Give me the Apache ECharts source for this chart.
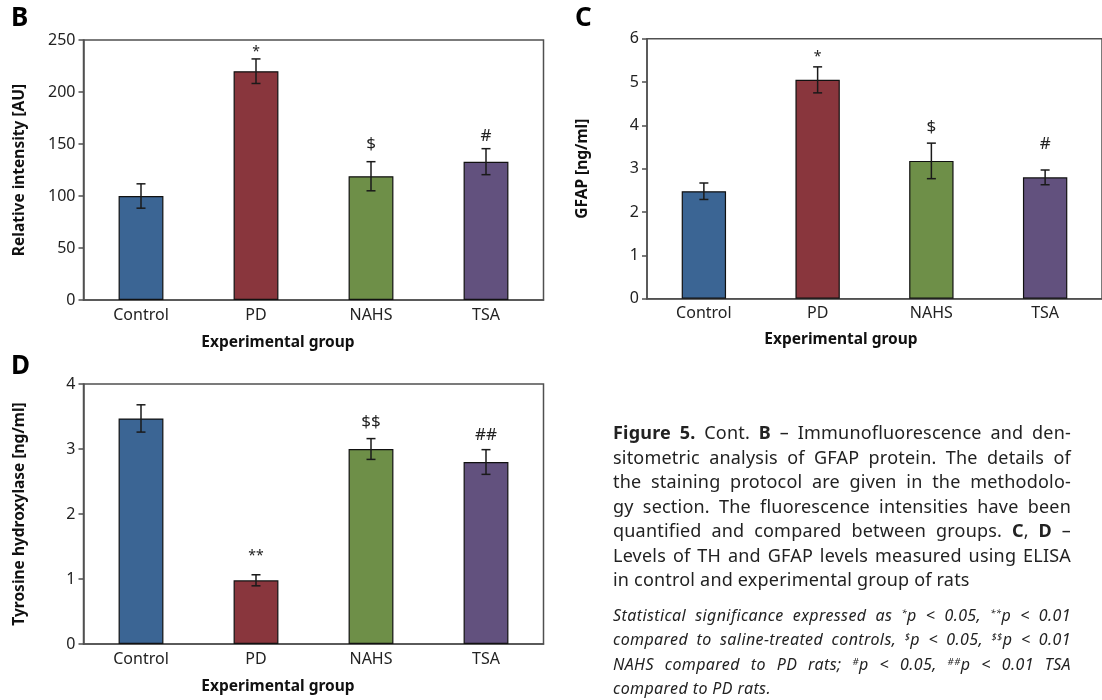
<!DOCTYPE html>
<html>
<head>
<meta charset="utf-8">
<script src="https://cdn.jsdelivr.net/npm/echarts@6/dist/echarts.min.js"></script>
<style>
  html, body { margin:0; padding:0; background:#fff; }
  #wrap { position:relative; width:1102px; height:700px; overflow:hidden; }
  #chart { position:absolute; left:0; top:0; width:1102px; height:700px; }
  .cap { position:absolute; left:613px; width:458px; font-family:"Noto Sans", sans-serif; color:#222; }
  .cap div { text-align:justify; text-align-last:justify; white-space:nowrap; }
  .cap div.last { text-align-last:left; }
  #cap1 { top:420px; font-size:18px; line-height:24.5px; letter-spacing:0.2px; }
  #cap2 { top:603px; font-size:16px; line-height:24.3px; font-style:italic; letter-spacing:0.4px; }
  sup { font-size:0.6em; vertical-align:0.55em; line-height:0; }
</style>
</head>
<body>
<div id="wrap">
  <div id="chart"></div>
  <div class="cap" id="cap1">
    <div><b>Figure 5.</b> Cont. <b>B</b> – Immunofluorescence and den-</div>
    <div>sitometric analysis of GFAP protein. The details of</div>
    <div>the staining protocol are given in the methodolo-</div>
    <div>gy section. The fluorescence intensities have been</div>
    <div>quantified and compared between groups. <b>C</b>, <b>D</b> –</div>
    <div>Levels of TH and GFAP levels measured using ELISA</div>
    <div class="last">in control and experimental group of rats</div>
  </div>
  <div class="cap" id="cap2">
    <div>Statistical significance expressed as <sup>*</sup>p &lt; 0.05, <sup>**</sup>p &lt; 0.01</div>
    <div>compared to saline-treated controls, <sup>$</sup>p &lt; 0.05, <sup>$$</sup>p &lt; 0.01</div>
    <div>NAHS compared to PD rats; <sup>#</sup>p &lt; 0.05, <sup>##</sup>p &lt; 0.01 TSA</div>
    <div class="last">compared to PD rats.</div>
  </div>
</div>
<script>
// ---- data ----
var categories = ['Control', 'PD', 'NAHS', 'TSA'];
var barColors = ['#3b6594', '#89363d', '#6e8f48', '#62517e'];

// Panel B: Relative intensity [AU]
var intensityMean = [100, 220, 119, 133];
var intensityErr  = [11.7, 11.8, 14, 12.5];
var intensityMarks = ['', '*', '$', '#'];
var intensityMarkY = [null, 238.5, 150, 157.7];
var intensityTicks = [0, 50, 100, 150, 200, 250];

// Panel C: GFAP [ng/ml]
var gfapMean = [2.48, 5.05, 3.18, 2.8];
var gfapErr  = [0.19, 0.3, 0.41, 0.17];
var gfapMarks = ['', '*', '$', '#'];
var gfapMarkY = [null, 5.58, 3.97, 3.57];
var gfapTicks = [0, 1, 2, 3, 4, 5, 6];

// Panel D: Tyrosine hydroxylase [ng/ml]
var thMean = [3.47, 0.98, 3.0, 2.8];
var thErr  = [0.21, 0.085, 0.16, 0.19];
var thMarks = ['', '**', '$$', '##'];
var thMarkY = [null, 1.35, 3.42, 3.21];
var thTicks = [0, 1, 2, 3, 4];

var FONT = '"Noto Sans", sans-serif';
var AXC = '#505050';

var chart = echarts.init(document.getElementById('chart'), null, {renderer: 'canvas'});

var grids = [
  {left: 83.5, top: 40, width: 460, height: 260},
  {left: 647, top: 38.7, width: 458, height: 260},
  {left: 83.5, top: 384, width: 460, height: 260}
];
var panels = [
  {mean: intensityMean, err: intensityErr, marks: intensityMarks, markY: intensityMarkY, ticks: intensityTicks, name: 'Relative intensity [AU]'},
  {mean: gfapMean, err: gfapErr, marks: gfapMarks, markY: gfapMarkY, ticks: gfapTicks, name: 'GFAP [ng/ml]'},
  {mean: thMean, err: thErr, marks: thMarks, markY: thMarkY, ticks: thTicks, name: 'Tyrosine hydroxylase [ng/ml]'}
];

var xAxes = [], yAxes = [], series = [];
panels.forEach(function (p, i) {
  xAxes.push({
    type: 'category', gridIndex: i, data: categories,
    axisLine: {show: true, lineStyle: {color: AXC, width: 1.5}},
    axisTick: {show: false},
    axisLabel: {color: '#222', fontSize: 16, fontFamily: FONT, margin: 7}
  });
  var tk = p.ticks;
  yAxes.push({
    type: 'value', gridIndex: i, min: tk[0], max: tk[tk.length - 1], interval: tk[1] - tk[0],
    name: p.name, nameLocation: 'middle', nameGap: 56,
    nameTextStyle: {color: '#111', fontSize: 15.5, fontWeight: 'bold', fontFamily: FONT},
    axisLine: {show: true, lineStyle: {color: AXC, width: 1.5}},
    axisTick: {show: true, inside: false, length: 5, lineStyle: {color: AXC, width: 1.5}},
    splitLine: {show: false},
    axisLabel: {color: '#222', fontSize: 16, fontFamily: FONT, margin: 8}
  });
  series.push({
    type: 'bar', xAxisIndex: i, yAxisIndex: i, barWidth: '39%',
    data: p.mean.map(function (v, k) {
      return {value: v, itemStyle: {color: barColors[k], borderColor: '#111', borderWidth: 1.2}};
    }),
    silent: true, animation: false
  });
  series.push({
    type: 'custom', xAxisIndex: i, yAxisIndex: i, z: 5, animation: false, silent: true,
    data: p.mean.map(function (v, k) { return [k, v, p.err[k]]; }),
    renderItem: function (params, api) {
      var x = api.value(0), m = api.value(1), e = api.value(2);
      var top = api.coord([x, m + e]);
      var bot = api.coord([x, m - e]);
      var hw = 4.5;
      var st = {stroke: '#1a1a1a', lineWidth: 1.5};
      return {type: 'group', children: [
        {type: 'line', shape: {x1: top[0], y1: top[1], x2: bot[0], y2: bot[1]}, style: st},
        {type: 'line', shape: {x1: top[0] - hw, y1: top[1], x2: top[0] + hw, y2: top[1]}, style: st},
        {type: 'line', shape: {x1: bot[0] - hw, y1: bot[1], x2: bot[0] + hw, y2: bot[1]}, style: st}
      ]};
    }
  });
  var markData = [];
  p.marks.forEach(function (t, k) { if (t) markData.push([k, p.markY[k]]); });
  var markText = p.marks.filter(function (t) { return t; });
  series.push({
    type: 'custom', xAxisIndex: i, yAxisIndex: i, z: 6, animation: false, silent: true,
    data: markData,
    renderItem: function (params, api) {
      var c = api.coord([api.value(0), api.value(1)]);
      var t = markText[params.dataIndex];
      var isStar = t.indexOf('*') >= 0;
      return {type: 'text', x: c[0], y: c[1], style: {
        text: t, fill: '#222', fontSize: isStar ? 14 : 17, fontFamily: FONT,
        align: 'center', verticalAlign: 'middle'
      }};
    }
  });
});

var graphic = [
  {type: 'text', left: 11, top: 6, style: {text: 'B', fontSize: 26, fontWeight: 'bold', fontFamily: FONT, fill: '#000'}},
  {type: 'text', left: 575, top: 6, style: {text: 'C', fontSize: 26, fontWeight: 'bold', fontFamily: FONT, fill: '#000'}},
  {type: 'text', left: 11, top: 354, style: {text: 'D', fontSize: 26, fontWeight: 'bold', fontFamily: FONT, fill: '#000'}},
  {type: 'text', x: 278, y: 343, style: {text: 'Experimental group', fontSize: 15.5, fontWeight: 'bold', fontFamily: FONT, fill: '#111', align: 'center', verticalAlign: 'middle'}},
  {type: 'text', x: 841, y: 340, style: {text: 'Experimental group', fontSize: 15.5, fontWeight: 'bold', fontFamily: FONT, fill: '#111', align: 'center', verticalAlign: 'middle'}},
  {type: 'text', x: 278, y: 687, style: {text: 'Experimental group', fontSize: 15.5, fontWeight: 'bold', fontFamily: FONT, fill: '#111', align: 'center', verticalAlign: 'middle'}}
];

chart.setOption({
  animation: false,
  backgroundColor: '#fff',
  grid: grids.map(function (g) { return Object.assign({show: true, borderColor: AXC, borderWidth: 1.5, backgroundColor: 'transparent', containLabel: false}, g); }),
  xAxis: xAxes,
  yAxis: yAxes,
  series: series,
  graphic: graphic
});
</script>
</body>
</html>
